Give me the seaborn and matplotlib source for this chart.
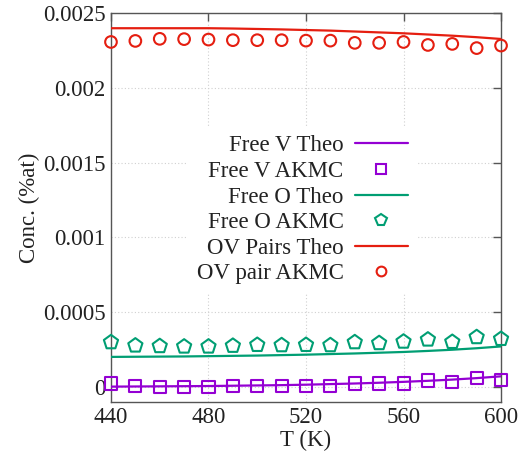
import numpy as np
import pandas as pd
import matplotlib
matplotlib.use("Agg")
import matplotlib.pyplot as plt
import seaborn as sns
from matplotlib.lines import Line2D

# ---- data ----
temps = [440, 450, 460, 470, 480, 490, 500, 510, 520, 530, 540, 550, 560, 570, 580, 590, 600]

free_v_theo = [0.000001, 0.000002, 0.000003, 0.000004, 0.000005, 0.000007, 0.000009, 0.000011,
               0.000014, 0.000018, 0.000022, 0.000027, 0.000033, 0.000040, 0.000048, 0.000058, 0.000070]
free_v_akmc = [0.000022, 0.000005, 0.000000, 0.000000, 0.000000, 0.000002, 0.000007, 0.000005,
               0.000007, 0.000007, 0.000022, 0.000022, 0.000022, 0.000042, 0.000031, 0.000060, 0.000045]

free_o_theo = [0.000200, 0.000201, 0.000202, 0.000203, 0.000205, 0.000207, 0.000209, 0.000212,
               0.000215, 0.000219, 0.000223, 0.000228, 0.000233, 0.000240, 0.000248, 0.000258, 0.000270]
free_o_akmc = [0.000298, 0.000276, 0.000272, 0.000269, 0.000269, 0.000274, 0.000280, 0.000278,
               0.000280, 0.000278, 0.000298, 0.000292, 0.000302, 0.000316, 0.000300, 0.000332, 0.000320]

ov_theo = [0.002400, 0.002400, 0.002400, 0.002400, 0.002400, 0.002398, 0.002395, 0.002392,
           0.002388, 0.002384, 0.002378, 0.002372, 0.002366, 0.002358, 0.002350, 0.002340, 0.002328]
ov_akmc = [0.002308, 0.002315, 0.002329, 0.002327, 0.002324, 0.002320, 0.002320, 0.002320,
           0.002317, 0.002317, 0.002302, 0.002302, 0.002308, 0.002288, 0.002295, 0.002267, 0.002284]

x_ticks = [440, 480, 520, 560, 600]
y_ticks = [0, 0.0005, 0.001, 0.0015, 0.002, 0.0025]
y_tick_labels = ["0", "0.0005", "0.001", "0.0015", "0.002", "0.0025"]

purple = "#9400d3"
green = "#009e73"
red = "#e51e10"

sns.set_style("white")
plt.rcParams['font.family'] = ['Liberation Serif', 'DejaVu Serif']

fig = plt.figure(figsize=(5.23, 4.55), dpi=100)
ax = fig.add_axes([0.2122, 0.1171, 0.958 - 0.2122, 0.9708 - 0.1171])

fs = 16.5

series = [
    ("Free V Theo", "Free V AKMC", free_v_theo, free_v_akmc, purple, "s", 75, 7),
    ("Free O Theo", "Free O AKMC", free_o_theo, free_o_akmc, green, "p", 115, 8.5),
    ("OV Pairs Theo", "OV pair AKMC", ov_theo, ov_akmc, red, "o", 70, 7),
]

handles = []
for lt, la, th, ak, col, mk, sz, lms in series:
    df = pd.DataFrame({"T": temps, "theo": th, "akmc": ak})
    sns.lineplot(data=df, x="T", y="theo", color=col, linewidth=1.6, ax=ax, zorder=3)
    sns.scatterplot(data=df, x="T", y="akmc", marker=mk, s=sz, facecolors="none",
                    edgecolor=col, linewidth=1.5, ax=ax, zorder=4, clip_on=False)
    handles.append(Line2D([], [], color=col, lw=1.6, label=lt))
    handles.append(Line2D([], [], color=col, lw=0, marker=mk, markersize=lms,
                          markerfacecolor="none", markeredgewidth=1.5, markeredgecolor=col, label=la))

ax.set_xlim(440, 600)
ax.set_ylim(-0.0001, 0.0025)
ax.set_xticks(x_ticks)
ax.set_xticklabels([str(t) for t in x_ticks])
ax.set_yticks(y_ticks)
ax.set_yticklabels(y_tick_labels)
ax.tick_params(direction="in", length=6, width=1, colors="#555555", labelcolor="#222222",
               labelsize=fs, top=True, right=True, pad=4)
for s in ax.spines.values():
    s.set_color("#555555")
    s.set_linewidth(1)
ax.grid(True, color="#d0d0d0", linestyle=(0, (1, 2)), linewidth=0.8)
ax.set_axisbelow(True)

ax.set_xlabel("T (K)", fontsize=fs, color="#222222", labelpad=1)
ax.set_ylabel("Conc. (%at)", fontsize=fs, color="#222222", labelpad=2)

leg = ax.legend(handles=handles, loc="center", bbox_to_anchor=(0.49, 0.494),
                markerfirst=False, fontsize=fs, frameon=True, fancybox=False,
                facecolor="white", edgecolor="none", framealpha=1.0,
                handlelength=2.3, handletextpad=0.5, labelspacing=0.2,
                borderpad=0.4)
leg.set_zorder(5)
for t in leg.get_texts():
    t.set_color("#222222")

fig.savefig("out.png", dpi=100)
